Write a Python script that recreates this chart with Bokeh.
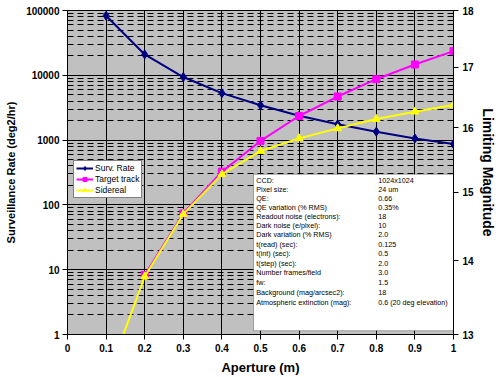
from bokeh.plotting import figure
from bokeh.models import (LinearAxis, Range1d, FixedTicker, CustomJSTickFormatter,
                          Legend, LegendItem, BoxAnnotation, ColumnDataSource)
from bokeh.embed import file_html
from bokeh.resources import INLINE
from bokeh.core.properties import value

# ---------------- data ----------------
aperture = [0.1, 0.2, 0.3, 0.4, 0.5, 0.6, 0.7, 0.8, 0.9, 1.0]
surv_rate = [83000, 21000, 9400, 5300, 3450, 2380, 1760, 1350, 1060, 870]

target_ap = [0.2, 0.3, 0.4, 0.5, 0.6, 0.7, 0.8, 0.9, 1.0]
target_mag = [13.80, 14.68, 15.31, 15.79, 16.19, 16.51, 16.80, 17.05, 17.28]

sidereal_ap = [0.1, 0.2, 0.3, 0.4, 0.5, 0.6, 0.7, 0.8, 0.9, 1.0]
sidereal_mag = [12.4, 13.78, 14.67, 15.27, 15.63, 15.83, 15.99, 16.14, 16.26, 16.37]

x_ticks = [0, 0.1, 0.2, 0.3, 0.4, 0.5, 0.6, 0.7, 0.8, 0.9, 1.0]
left_ticks = [1, 10, 100, 1000, 10000, 100000]
left_minor = [k * 10 ** d for d in range(5) for k in range(2, 10)]
right_ticks = [13, 14, 15, 16, 17, 18]

param_names = ["CCD:", "Pixel size:", "QE:", "QE variation (% RMS)",
               "Readout noise (electrons):", "Dark noise (e/pixel):",
               "Dark variation (% RMS)", "t(read) (sec):", "t(int) (sec):",
               "t(step) (sec):", "Number frames/field", "fw:",
               "Background (mag/arcsec2):", "Atmospheric extinction (mag):"]
param_values = ["1024x1024", "24 um", "0.66", "0.35%", "18", "10", "2.0",
                "0.125", "0.5", "2.0", "3.0", "1.5", "18",
                "0.6  (20 deg elevation)"]

FONT = "Liberation Sans"

# ---------------- figure ----------------
p = figure(width=500, height=377, x_range=(0, 1), y_range=(1, 100000),
           y_axis_type="log", output_backend="svg", toolbar_location=None,
           min_border_left=67, min_border_right=47, min_border_top=10,
           min_border_bottom=41, background_fill_color="#C0C0C0",
           border_fill_color="white", outline_line_color="black")
p.extra_y_ranges = {"mag": Range1d(13, 18)}

# left axis
la = p.left[0]
la.ticker = FixedTicker(ticks=left_ticks, minor_ticks=left_minor)
la.formatter = CustomJSTickFormatter(code="return tick.toFixed(0);")
la.axis_label = "Surveillance Rate (deg2/hr)"
la.major_tick_out = 5
la.major_tick_in = 0
la.minor_tick_in = 3
la.minor_tick_out = 0
la.axis_label_standoff = 6
la.major_label_standoff = 3

# bottom axis
ba = p.below[0]
ba.ticker = FixedTicker(ticks=x_ticks)
ba.formatter = CustomJSTickFormatter(code="return String(Math.round(tick*10)/10);")
ba.axis_label = "Aperture (m)"
ba.major_tick_out = 5
ba.major_tick_in = 0
ba.minor_tick_line_color = None
ba.axis_label_standoff = 5
ba.major_label_standoff = 4

# right axis
ra = LinearAxis(y_range_name="mag", ticker=FixedTicker(ticks=right_ticks),
                axis_label="Limiting Magnitude")
ra.major_tick_out = 5
ra.major_tick_in = 0
ra.minor_tick_line_color = None
ra.axis_label_standoff = 3
ra.major_label_standoff = 4
p.add_layout(ra, "right")

for ax, lsize in ((la, "11px"), (ba, "13px"), (ra, "14px")):
    ax.axis_line_color = "black"
    ax.major_tick_line_color = "black"
    ax.major_label_text_font = FONT
    ax.major_label_text_font_size = "10px"
    ax.major_label_text_font_style = "bold"
    ax.major_label_text_color = "black"
    ax.axis_label_text_font = FONT
    ax.axis_label_text_font_size = lsize
    ax.axis_label_text_font_style = "bold"
    ax.axis_label_text_color = "black"
la.minor_tick_line_color = "black"

# grids
p.ygrid.ticker = FixedTicker(ticks=left_ticks, minor_ticks=left_minor)
p.ygrid.grid_line_color = "black"
p.ygrid.grid_line_width = 1
p.ygrid.minor_grid_line_color = "black"
p.ygrid.minor_grid_line_dash = "6 4"
p.xgrid.ticker = FixedTicker(ticks=x_ticks)
p.xgrid.grid_line_color = "black"
p.xgrid.grid_line_width = 1

# parameter text box
box = BoxAnnotation(left=0.482, right=1.0, bottom=13.05, top=15.27,
                    y_range_name="mag", fill_color="white", fill_alpha=1,
                    line_color="black", line_width=1, level="underlay")
p.add_layout(box)

row_top = 15.18
row_step = 0.135
rows_y = [row_top - i * row_step for i in range(len(param_names))]
src_names = ColumnDataSource(dict(x=[0.489] * len(param_names), y=rows_y, t=param_names))
src_vals = ColumnDataSource(dict(x=[0.805] * len(param_values), y=rows_y, t=param_values))
for src in (src_names, src_vals):
    p.text(x="x", y="y", text="t", source=src, y_range_name="mag",
           text_font=value(FONT), text_font_size="7.2px",
           text_baseline="middle", text_align="left", text_color="black")

# series
r1 = p.line(aperture, surv_rate, color="#000080", line_width=2)
s1 = p.scatter(aperture, surv_rate, marker="diamond", size=9, color="#000080")
r2 = p.line(target_ap, target_mag, y_range_name="mag", color="#FF00FF", line_width=2)
s2 = p.scatter(target_ap, target_mag, y_range_name="mag", marker="square",
               size=7, color="#FF00FF")
r3 = p.line(sidereal_ap, sidereal_mag, y_range_name="mag", color="#FFFF00", line_width=2)
s3 = p.scatter(sidereal_ap, sidereal_mag, y_range_name="mag", marker="triangle",
               size=8, color="#FFFF00")

legend = Legend(items=[LegendItem(label="Surv. Rate", renderers=[r1, s1]),
                       LegendItem(label="Target track", renderers=[r2, s2]),
                       LegendItem(label="Sidereal", renderers=[r3, s3])],
                location=(6, 136), background_fill_color="white",
                background_fill_alpha=1, border_line_color="black",
                border_line_width=1, label_text_font=FONT,
                label_text_font_size="8.5px", label_text_color="black",
                glyph_width=17, glyph_height=10, label_height=10,
                spacing=1, padding=2, margin=0, label_standoff=2)
p.add_layout(legend)

open("out.html", "w").write(file_html(p, INLINE))
